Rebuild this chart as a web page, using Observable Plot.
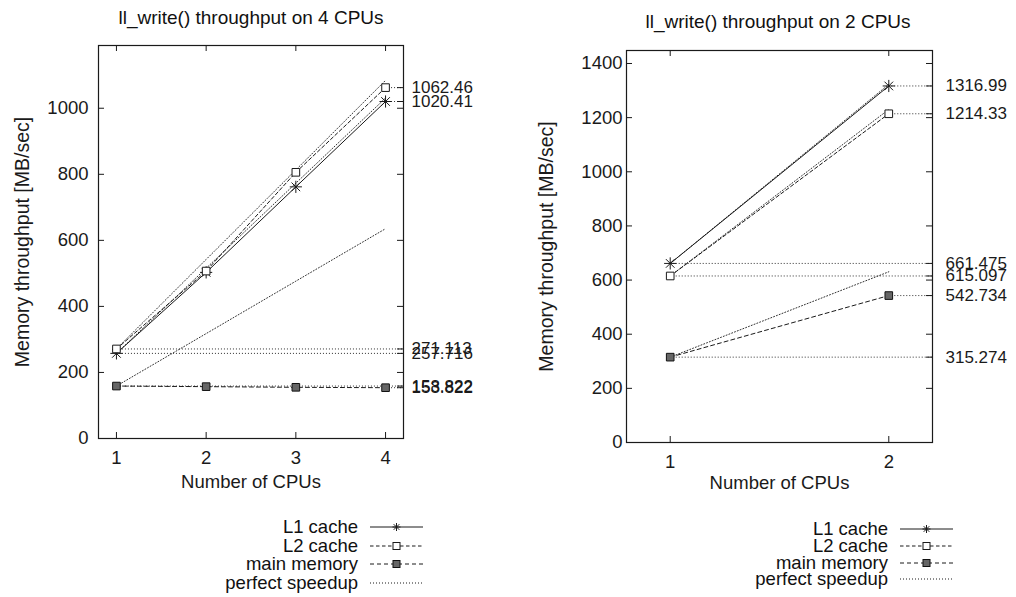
<!DOCTYPE html>
<html><head><meta charset="utf-8">
<script src="https://cdn.jsdelivr.net/npm/d3@7"></script>
<script src="https://cdn.jsdelivr.net/npm/@observablehq/plot@0.6"></script>
<style>
body{margin:0;background:#fff;font-family:"Liberation Sans",Arial,sans-serif;color:#111;}
#wrap{position:relative;width:1016px;height:597px;overflow:hidden;background:#fff;}
.panel{position:absolute;top:0;}
.title{position:absolute;font-size:19px;transform:translate(-50%,-50%);white-space:nowrap;}
.legend{position:absolute;font-size:18.5px;}
.lrow{display:flex;align-items:center;}
.lrow span{display:inline-block;text-align:right;white-space:nowrap;}
.lrow svg{margin-left:12px;}
</style>
</head><body>
<div id="wrap"></div>
<script>
// ---- data ----
const cpus4 = [1, 2, 3, 4];
const l1_4 = [257.716, 503, 762, 1020.41];
const l2_4 = [271.113, 507, 806, 1062.46];
const mem_4 = [158.822, 157, 155, 153.822];
const yTicks4 = [0, 200, 400, 600, 800, 1000];

const cpus2 = [1, 2];
const l1_2 = [661.475, 1316.99];
const l2_2 = [615.097, 1214.33];
const mem_2 = [315.274, 542.734];
const yTicks2 = [0, 200, 400, 600, 800, 1000, 1200, 1400];

const seriesNames = ["L1 cache", "L2 cache", "main memory", "perfect speedup"];
const titles = ["ll_write() throughput on 4 CPUs", "ll_write() throughput on 2 CPUs"];
const xLabel = "Number of CPUs";
const yLabel = "Memory throughput [MB/sec]";

// ---- styles ----
const INK = "#1a1a1a";
const FS = 18.5;
const styles = {
  "L1 cache": {dash: null, symbol: "asterisk"},
  "L2 cache": {dash: "3.5,2.5", symbol: "square"},
  "main memory": {dash: "4,3", symbol: "filled"},
  "perfect speedup": {dash: "1,2", symbol: null}
};
const fmt = d3.format(".6~g");

function panel(cfg) {
  const {cpus, series, xDomain, yDomain, yTicks, width, height, ml, mr, mt, mb, yPad, xPad, labDx, yLabDx, xLabDy} = cfg;
  const fw = width - ml - mr, fh = height - mt - mb;
  const marks = [];
  const refs = [];
  series.forEach(s => {
    refs.push({y: s.values[0], x1: cpus[0]});
    refs.push({y: s.values[s.values.length - 1], x1: cpus[cpus.length - 1]});
  });
  marks.push(Plot.ruleY(refs, {y: "y", x1: "x1", x2: () => xDomain[1], stroke: INK, strokeWidth: 0.9, strokeDasharray: "1,2"}));
  series.forEach(s => {
    const sp = cpus.map(c => ({x: c, y: s.values[0] * c}));
    marks.push(Plot.line(sp, {x: "x", y: "y", stroke: INK, strokeWidth: 0.9, strokeDasharray: "1,2"}));
  });
  series.forEach(s => {
    const st = styles[s.name];
    const pts = cpus.map((c, i) => ({x: c, y: s.values[i]}));
    marks.push(Plot.line(pts, {x: "x", y: "y", stroke: INK, strokeWidth: 1, strokeDasharray: st.dash}));
    if (st.symbol === "asterisk") {
      marks.push(Plot.dot(pts, {x: "x", y: "y", symbol: "plus", r: 4, stroke: INK, strokeWidth: 1, fill: "none"}));
      marks.push(Plot.dot(pts, {x: "x", y: "y", symbol: "times", r: 4, stroke: INK, strokeWidth: 1, fill: "none"}));
    } else if (st.symbol === "square") {
      marks.push(Plot.dot(pts, {x: "x", y: "y", symbol: "square", r: 4.3, stroke: INK, strokeWidth: 1, fill: "white"}));
    } else if (st.symbol === "filled") {
      marks.push(Plot.dot(pts, {x: "x", y: "y", symbol: "square", r: 4.3, stroke: "#111", strokeWidth: 1, fill: "#666"}));
    }
  });
  marks.push(Plot.text(refs, {y: "y", text: d => fmt(d.y), frameAnchor: "right", dx: labDx, textAnchor: "start", fill: INK, fontSize: 17}));
  marks.push(Plot.tickY(yTicks, {y: d => d, insetRight: fw - 6, stroke: INK}));
  marks.push(Plot.tickY(yTicks.concat(refs.map(r => r.y)), {y: d => d, insetLeft: fw - 6, stroke: INK}));
  marks.push(Plot.tickX(cpus, {x: d => d, insetTop: fh - 6, stroke: INK}));
  marks.push(Plot.tickX(cpus, {x: d => d, insetBottom: fh - 6, stroke: INK}));
  marks.push(Plot.frame({stroke: INK, strokeWidth: 1.2}));
  marks.push(Plot.axisY({ticks: yTicks, tickSize: 0, tickPadding: yPad, label: null, tickFormat: d => String(d), fill: INK}));
  marks.push(Plot.axisX({ticks: cpus, tickSize: 0, tickPadding: xPad, label: null, tickFormat: d => String(d), fill: INK}));
  marks.push(Plot.text([yLabel], {text: d => d, frameAnchor: "left", textAnchor: "middle", rotate: -90, dx: yLabDx, fill: INK, fontSize: 19.5}));
  marks.push(Plot.text([xLabel], {text: d => d, frameAnchor: "bottom", textAnchor: "middle", dy: xLabDy, fill: INK}));
  return Plot.plot({
    width, height,
    marginLeft: ml, marginRight: mr, marginTop: mt, marginBottom: mb,
    x: {domain: xDomain},
    y: {domain: yDomain},
    style: {fontSize: FS + "px", fontFamily: "'Liberation Sans', Arial, sans-serif", background: "white", overflow: "visible"},
    marks
  });
}

const wrap = document.getElementById("wrap");

const left = panel({
  cpus: cpus4,
  series: [{name: "L1 cache", values: l1_4}, {name: "L2 cache", values: l2_4}, {name: "main memory", values: mem_4}],
  xDomain: [0.8, 4.2], yDomain: [0, 1190], yTicks: yTicks4,
  width: 480, height: 500, ml: 98, mr: 77, mt: 45, mb: 62,
  yPad: 10, xPad: 12, labDx: 8, yLabDx: -76, xLabDy: 49
});
left.classList.add("panel"); left.style.left = "0px";
wrap.appendChild(left);

const right = panel({
  cpus: cpus2,
  series: [{name: "L1 cache", values: l1_2}, {name: "L2 cache", values: l2_2}, {name: "main memory", values: mem_2}],
  xDomain: [0.8, 2.2], yDomain: [0, 1448], yTicks: yTicks2,
  width: 536, height: 500, ml: 146, mr: 84, mt: 50, mb: 58,
  yPad: 4, xPad: 12, labDx: 13, yLabDx: -80, xLabDy: 46
});
right.classList.add("panel"); right.style.left = "480px";
wrap.appendChild(right);

[[titles[0], 251, 18], [titles[1], 778, 22]].forEach(([t, x, y]) => {
  const d = document.createElement("div");
  d.className = "title"; d.textContent = t;
  d.style.left = x + "px"; d.style.top = y + "px";
  wrap.appendChild(d);
});

function sample(name) {
  const st = styles[name];
  const dash = st.dash ? `stroke-dasharray="${st.dash}"` : "";
  let m = "";
  if (st.symbol === "asterisk") m = `<path d="M26.5,3v8M22.5,7h8M23.7,4.2l5.6,5.6M29.3,4.2l-5.6,5.6" stroke="${INK}" fill="none"/>`;
  if (st.symbol === "square") m = `<rect x="23" y="3.5" width="7" height="7" fill="white" stroke="${INK}"/>`;
  if (st.symbol === "filled") m = `<rect x="23" y="3.5" width="7" height="7" fill="#666" stroke="#111"/>`;
  return `<svg width="53" height="14"><line x1="0" x2="53" y1="7" y2="7" stroke="${INK}" stroke-width="1" ${dash}/>${m}</svg>`;
}
function legend(xRight, firstCenter, rowH) {
  const d = document.createElement("div");
  d.className = "legend";
  d.style.left = (xRight - 200) + "px"; d.style.top = (firstCenter - rowH / 2) + "px";
  d.innerHTML = seriesNames.map(n => `<div class="lrow" style="height:${rowH}px"><span style="width:200px">${n}</span>${sample(n)}</div>`).join("");
  wrap.appendChild(d);
}
legend(358, 527, 18.7);
legend(888, 529, 16.8);
</script>
</body></html>
